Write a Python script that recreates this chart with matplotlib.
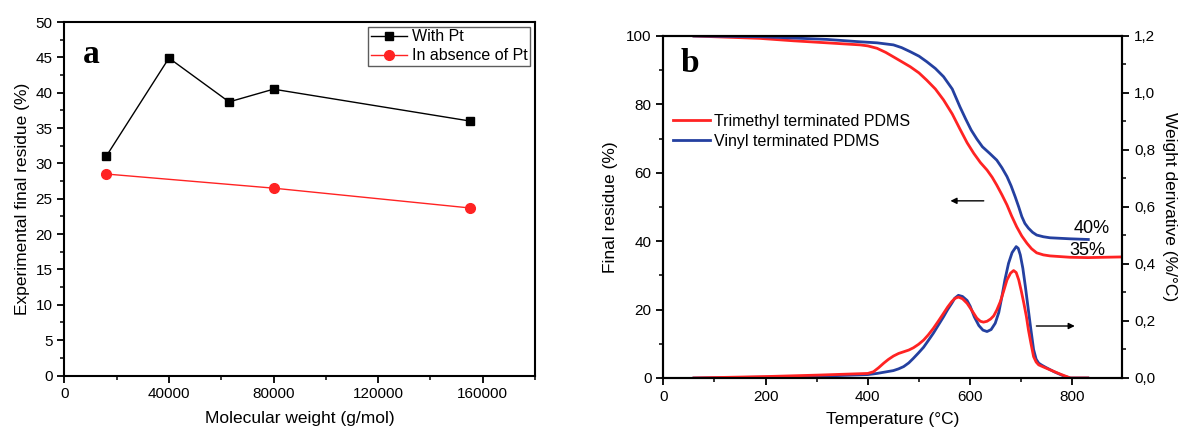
import matplotlib
matplotlib.use("Agg")
import matplotlib.pyplot as plt
from matplotlib.ticker import MultipleLocator, FuncFormatter

plt.rcParams['font.family'] = ['Liberation Sans', 'DejaVu Sans']

# ---- panel a data ----
mw_pt = [16000, 40000, 63000, 80000, 155000]
res_pt = [31.0, 44.9, 38.7, 40.5, 36.0]
mw_nopt = [16000, 80000, 155000]
res_nopt = [28.5, 26.5, 23.7]

# ---- panel b data: TGA (residue %) ----
t_tga_tri = [60, 189, 254, 320, 385, 400, 418, 435, 450, 466, 483, 500, 515, 532,
             548, 565, 580, 594, 607, 620, 633, 643, 652, 662, 672, 681, 691, 701,
             711, 720, 730, 743, 756, 795, 830, 897]
tga_tri = [100.0, 99.3, 98.6, 98.0, 97.4, 97.1, 96.4, 95.2, 93.9, 92.5, 91.0, 89.2,
           87.1, 84.5, 81.3, 77.2, 72.8, 68.8, 65.7, 63.0, 60.8, 58.7, 56.4, 53.6,
           50.6, 47.4, 44.2, 41.5, 39.4, 37.8, 36.6, 36.0, 35.7, 35.3, 35.2, 35.4]
t_tga_vin = [60, 189, 320, 385, 418, 450, 466, 483, 500, 515, 532, 548, 565, 580,
             591, 602, 613, 624, 638, 652, 662, 672, 680, 688, 695, 701, 707, 714,
             722, 730, 743, 756, 795, 831]
tga_vin = [100.0, 99.8, 99.0, 98.3, 98.0, 97.4, 96.6, 95.4, 94.1, 92.5, 90.5, 88.1,
           84.5, 79.3, 75.8, 72.5, 69.9, 67.6, 65.7, 63.7, 61.5, 58.9, 56.2, 53.0,
           50.0, 47.2, 45.2, 43.8, 42.6, 41.8, 41.3, 41.0, 40.7, 40.5]

# ---- panel b data: DTG (%/°C) ----
t_dtg_tri = [60, 200, 300, 400, 411, 421, 431, 440, 450, 460, 470, 480, 489, 499,
             509, 518, 528, 538, 548, 556, 564, 570, 577, 585, 594, 603, 613, 620,
             626, 633, 640, 646, 652, 659, 665, 672, 679, 685, 690, 695, 700, 705,
             710, 714, 719, 724, 729, 734, 744, 757, 777, 796, 830]
dtg_tri = [0.0, 0.005, 0.010, 0.016, 0.022, 0.036, 0.052, 0.065, 0.077, 0.086,
           0.092, 0.098, 0.106, 0.118, 0.133, 0.151, 0.174, 0.200, 0.227, 0.249,
           0.268, 0.279, 0.284, 0.278, 0.262, 0.238, 0.210, 0.199, 0.196, 0.199,
           0.207, 0.218, 0.238, 0.268, 0.302, 0.344, 0.368, 0.377, 0.370, 0.344,
           0.305, 0.262, 0.215, 0.168, 0.120, 0.075, 0.056, 0.046, 0.038, 0.028,
           0.013, 0.0, 0.0]
t_dtg_vin = [60, 200, 300, 400, 418, 450, 460, 470, 480, 489, 499, 509, 518, 528,
             538, 548, 556, 564, 570, 577, 585, 594, 600, 608, 617, 625, 633, 641,
             649, 656, 662, 668, 675, 682, 690, 694, 698, 703, 708, 713, 718, 724,
             729, 734, 740, 747, 764, 783, 796, 830]
dtg_vin = [0.0, 0.003, 0.006, 0.012, 0.016, 0.026, 0.032, 0.040, 0.053, 0.069,
           0.088, 0.108, 0.131, 0.157, 0.186, 0.215, 0.240, 0.262, 0.280, 0.290,
           0.286, 0.272, 0.252, 0.215, 0.184, 0.168, 0.163, 0.170, 0.192, 0.230,
           0.285, 0.345, 0.402, 0.440, 0.461, 0.455, 0.432, 0.385, 0.320, 0.250,
           0.180, 0.100, 0.066, 0.052, 0.045, 0.038, 0.022, 0.007, 0.0, 0.0]

RED = '#ff2323'
BLUE = '#2440a0'

fig = plt.figure(figsize=(11.85, 4.29), dpi=100)

def style_axis(ax):
    for s in ax.spines.values():
        s.set_linewidth(1.5)
    ax.tick_params(which='major', direction='out', length=5, width=1.3, labelsize=11)
    ax.tick_params(which='minor', direction='out', length=3, width=1.1)
    ax.tick_params(top=False, right=False, which='both')

# ---------------- panel a ----------------
ax1 = fig.add_axes([0.0543, 0.1247, 0.3972, 0.824])
ax1.plot(mw_pt, res_pt, '-s', color='black', lw=1.0, ms=6, label='With Pt')
ax1.plot(mw_nopt, res_nopt, '-o', color=RED, lw=1.0, ms=7, label='In absence of Pt')
ax1.set_xlim(0, 180000)
ax1.set_ylim(0, 50)
ax1.xaxis.set_major_locator(MultipleLocator(40000))
ax1.xaxis.set_minor_locator(MultipleLocator(20000))
ax1.yaxis.set_major_locator(MultipleLocator(5))
ax1.yaxis.set_minor_locator(MultipleLocator(2.5))
style_axis(ax1)
ax1.set_xlabel('Molecular weight (g/mol)', fontsize=12.5, labelpad=7)
ax1.set_ylabel('Experimental final residue (%)', fontsize=12.5, labelpad=4)
leg1 = ax1.legend(loc='upper right', fontsize=11.5, frameon=True, fancybox=False,
                  edgecolor='#333333', borderaxespad=0.3, borderpad=0.15,
                  labelspacing=0.25, handlelength=2.3, handletextpad=0.3)
leg1.get_frame().set_linewidth(1.0)
ax1.text(0.04, 0.885, 'a', transform=ax1.transAxes, fontsize=24, fontweight='bold',
         family=['Liberation Serif', 'DejaVu Serif'], va='baseline', ha='left')

# ---------------- panel b ----------------
ax2 = fig.add_axes([0.5597, 0.1189, 0.3872, 0.7972])
ax2.plot(t_tga_tri, tga_tri, color=RED, lw=2.0, label='Trimethyl terminated PDMS')
ax2.plot(t_tga_vin, tga_vin, color=BLUE, lw=2.0, label='Vinyl terminated PDMS')
ax2.set_xlim(0, 897)
ax2.set_ylim(0, 100)
ax2.xaxis.set_major_locator(MultipleLocator(200))
ax2.xaxis.set_minor_locator(MultipleLocator(100))
ax2.yaxis.set_major_locator(MultipleLocator(20))
ax2.yaxis.set_minor_locator(MultipleLocator(10))
style_axis(ax2)
ax2.set_xlabel('Temperature (°C)', fontsize=12.5, labelpad=6)
ax2.set_ylabel('Final residue (%)', fontsize=12.5, labelpad=6)
ax2.legend(loc='upper left', bbox_to_anchor=(0.0, 0.80), fontsize=11.5, frameon=False,
           handlelength=2.3, handletextpad=0.3, labelspacing=0.3, borderaxespad=0.2)
ax2.text(0.038, 0.896, 'b', transform=ax2.transAxes, fontsize=24, fontweight='bold',
         family=['Liberation Serif', 'DejaVu Serif'], va='baseline', ha='left')
ax2.text(837, 43.8, '40%', fontsize=13, ha='center', va='center')
ax2.text(829, 37.2, '35%', fontsize=13, ha='center', va='center')
ax2.annotate('', xy=(556, 51.8), xytext=(632, 51.8),
             arrowprops=dict(arrowstyle='-|>', color='black', lw=1.0, mutation_scale=9))
ax2.annotate('', xy=(810, 15.2), xytext=(724, 15.2),
             arrowprops=dict(arrowstyle='-|>', color='black', lw=1.0, mutation_scale=9))

ax3 = ax2.twinx()
ax3.plot(t_dtg_vin, dtg_vin, color=BLUE, lw=2.0)
ax3.plot(t_dtg_tri, dtg_tri, color=RED, lw=2.0)
ax3.set_ylim(0, 1.2)
ax3.yaxis.set_major_locator(MultipleLocator(0.2))
ax3.yaxis.set_minor_locator(MultipleLocator(0.1))
ax3.yaxis.set_major_formatter(FuncFormatter(lambda v, p: f'{v:.1f}'.replace('.', ',')))
for s in ax3.spines.values():
    s.set_linewidth(1.5)
ax3.tick_params(which='major', direction='out', length=5, width=1.3, labelsize=11)
ax3.tick_params(which='minor', direction='out', length=3, width=1.1)
ax3.set_ylabel('Weight derivative (%/°C)', fontsize=12.5, rotation=270, labelpad=16)

plt.savefig('out.png', dpi=100)
